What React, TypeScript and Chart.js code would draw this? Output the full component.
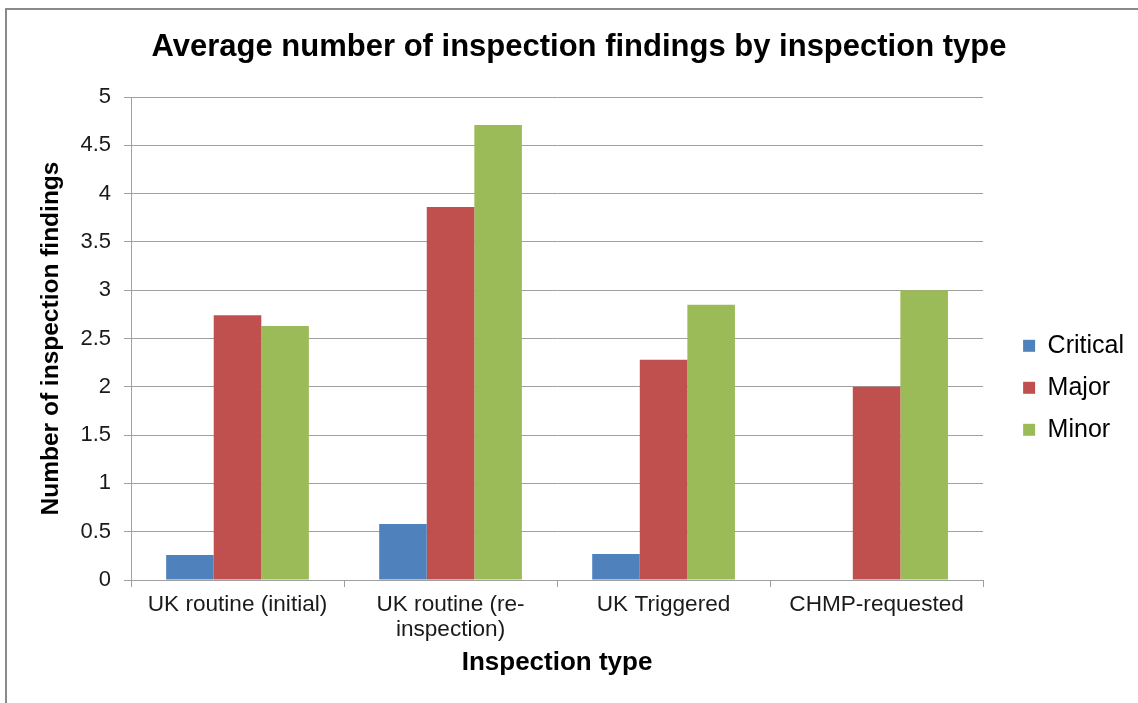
import React, { useEffect, useRef } from 'react';
import { Chart, registerables } from 'chart.js';

Chart.register(...registerables);

const FONT = "'Liberation Sans', Arial, sans-serif";

const categories: (string | string[])[] = [
  'UK routine (initial)',
  ['UK routine (re-', 'inspection)'],
  'UK Triggered',
  'CHMP-requested',
];
const seriesNames = ['Critical', 'Major', 'Minor'];
const seriesColors = ['#4f81bd', '#c0504d', '#9bbb59'];
const criticalValues = [0.26, 0.58, 0.27, 0];
const majorValues = [2.74, 3.86, 2.28, 2.0];
const minorValues = [2.63, 4.71, 2.85, 3.0];
const yMin = 0;
const yMax = 5;
const yStep = 0.5;
const chartTitle = 'Average number of inspection findings by inspection type';
const xTitle = 'Inspection type';
const yTitle = 'Number of inspection findings';

const framePlugin = {
  id: 'frame',
  beforeDraw(chart: any) {
    const ctx = chart.ctx;
    ctx.save();
    ctx.fillStyle = '#ffffff';
    ctx.fillRect(0, 0, chart.width, chart.height);
    ctx.fillStyle = '#8a8a8a';
    ctx.fillRect(5, 8, chart.width - 5, 2);
    ctx.fillRect(5, 8, 2, chart.height - 8);
    ctx.restore();
  },
};

export default function App() {
  const ref = useRef<HTMLCanvasElement | null>(null);

  useEffect(() => {
    if (!ref.current) return;
    const values = [criticalValues, majorValues, minorValues];
    const chart = new Chart(ref.current, {
      type: 'bar',
      data: {
        labels: categories,
        datasets: seriesNames.map((name, i) => ({
          label: name,
          data: values[i],
          backgroundColor: seriesColors[i],
          borderWidth: 0,
          categoryPercentage: 0.67,
          barPercentage: 1,
        })),
      },
      options: {
        responsive: false,
        animation: false,
        layout: { padding: { left: 24, right: 4, top: 0, bottom: 0 } },
        plugins: {
          tooltip: { enabled: false },
          title: {
            display: true,
            text: chartTitle,
            color: '#000',
            font: { family: FONT, size: 31, weight: 'bold', lineHeight: 1.2 },
            padding: { top: 29, bottom: 30.8 },
          },
          legend: {
            position: 'right',
            title: {
              display: true,
              text: ' ',
              font: { family: FONT, size: 13 },
              padding: { top: 57, bottom: 0 },
            },
            labels: {
              boxWidth: 12,
              boxHeight: 12,
              padding: 17,
              color: '#000',
              font: { family: FONT, size: 25 },
            },
          },
        },
        scales: {
          x: {
            grid: {
              display: true,
              drawOnChartArea: false,
              drawTicks: true,
              tickLength: 7,
              color: '#a0a0a0',
              offset: true,
            },
            border: { display: true, color: '#a0a0a0' },
            ticks: {
              color: '#1a1a1a',
              padding: 5,
              maxRotation: 0,
              autoSkip: false,
              font: { family: FONT, size: 22.6, lineHeight: 1.1 },
            },
            title: {
              display: true,
              text: xTitle,
              color: '#000',
              font: { family: FONT, size: 26, weight: 'bold' },
              padding: { top: 0, bottom: 24.5 },
            },
            afterFit: (s: any) => {
              s.height = 123;
            },
          },
          y: {
            min: yMin,
            max: yMax,
            ticks: {
              stepSize: yStep,
              color: '#1a1a1a',
              padding: 13,
              font: { family: FONT, size: 22 },
              callback: (v: any) => String(Number(v)),
            },
            grid: { color: '#a0a0a0', tickLength: 7, drawTicks: true },
            border: { display: true, color: '#a0a0a0' },
            title: {
              display: true,
              text: yTitle,
              color: '#000',
              font: { family: FONT, size: 24.5, weight: 'bold' },
              padding: { top: 13, bottom: 0 },
            },
            afterFit: (s: any) => {
              s.width = 107;
            },
          },
          spacer: {
            type: 'linear',
            position: 'right',
            display: true,
            grid: { display: false, drawTicks: false },
            border: { display: false },
            ticks: { display: false },
            title: { display: false },
            afterFit: (s: any) => {
              s.width = 23;
            },
          },
        },
      } as any,
      plugins: [framePlugin],
    });
    return () => chart.destroy();
  }, []);

  return (
    <div style={{ position: 'fixed', left: 0, top: 0, width: 1138, height: 703, overflow: 'hidden', background: '#fff' }}>
      <canvas ref={ref} width={1138} height={703} style={{ display: 'block' }} />
    </div>
  );
}
